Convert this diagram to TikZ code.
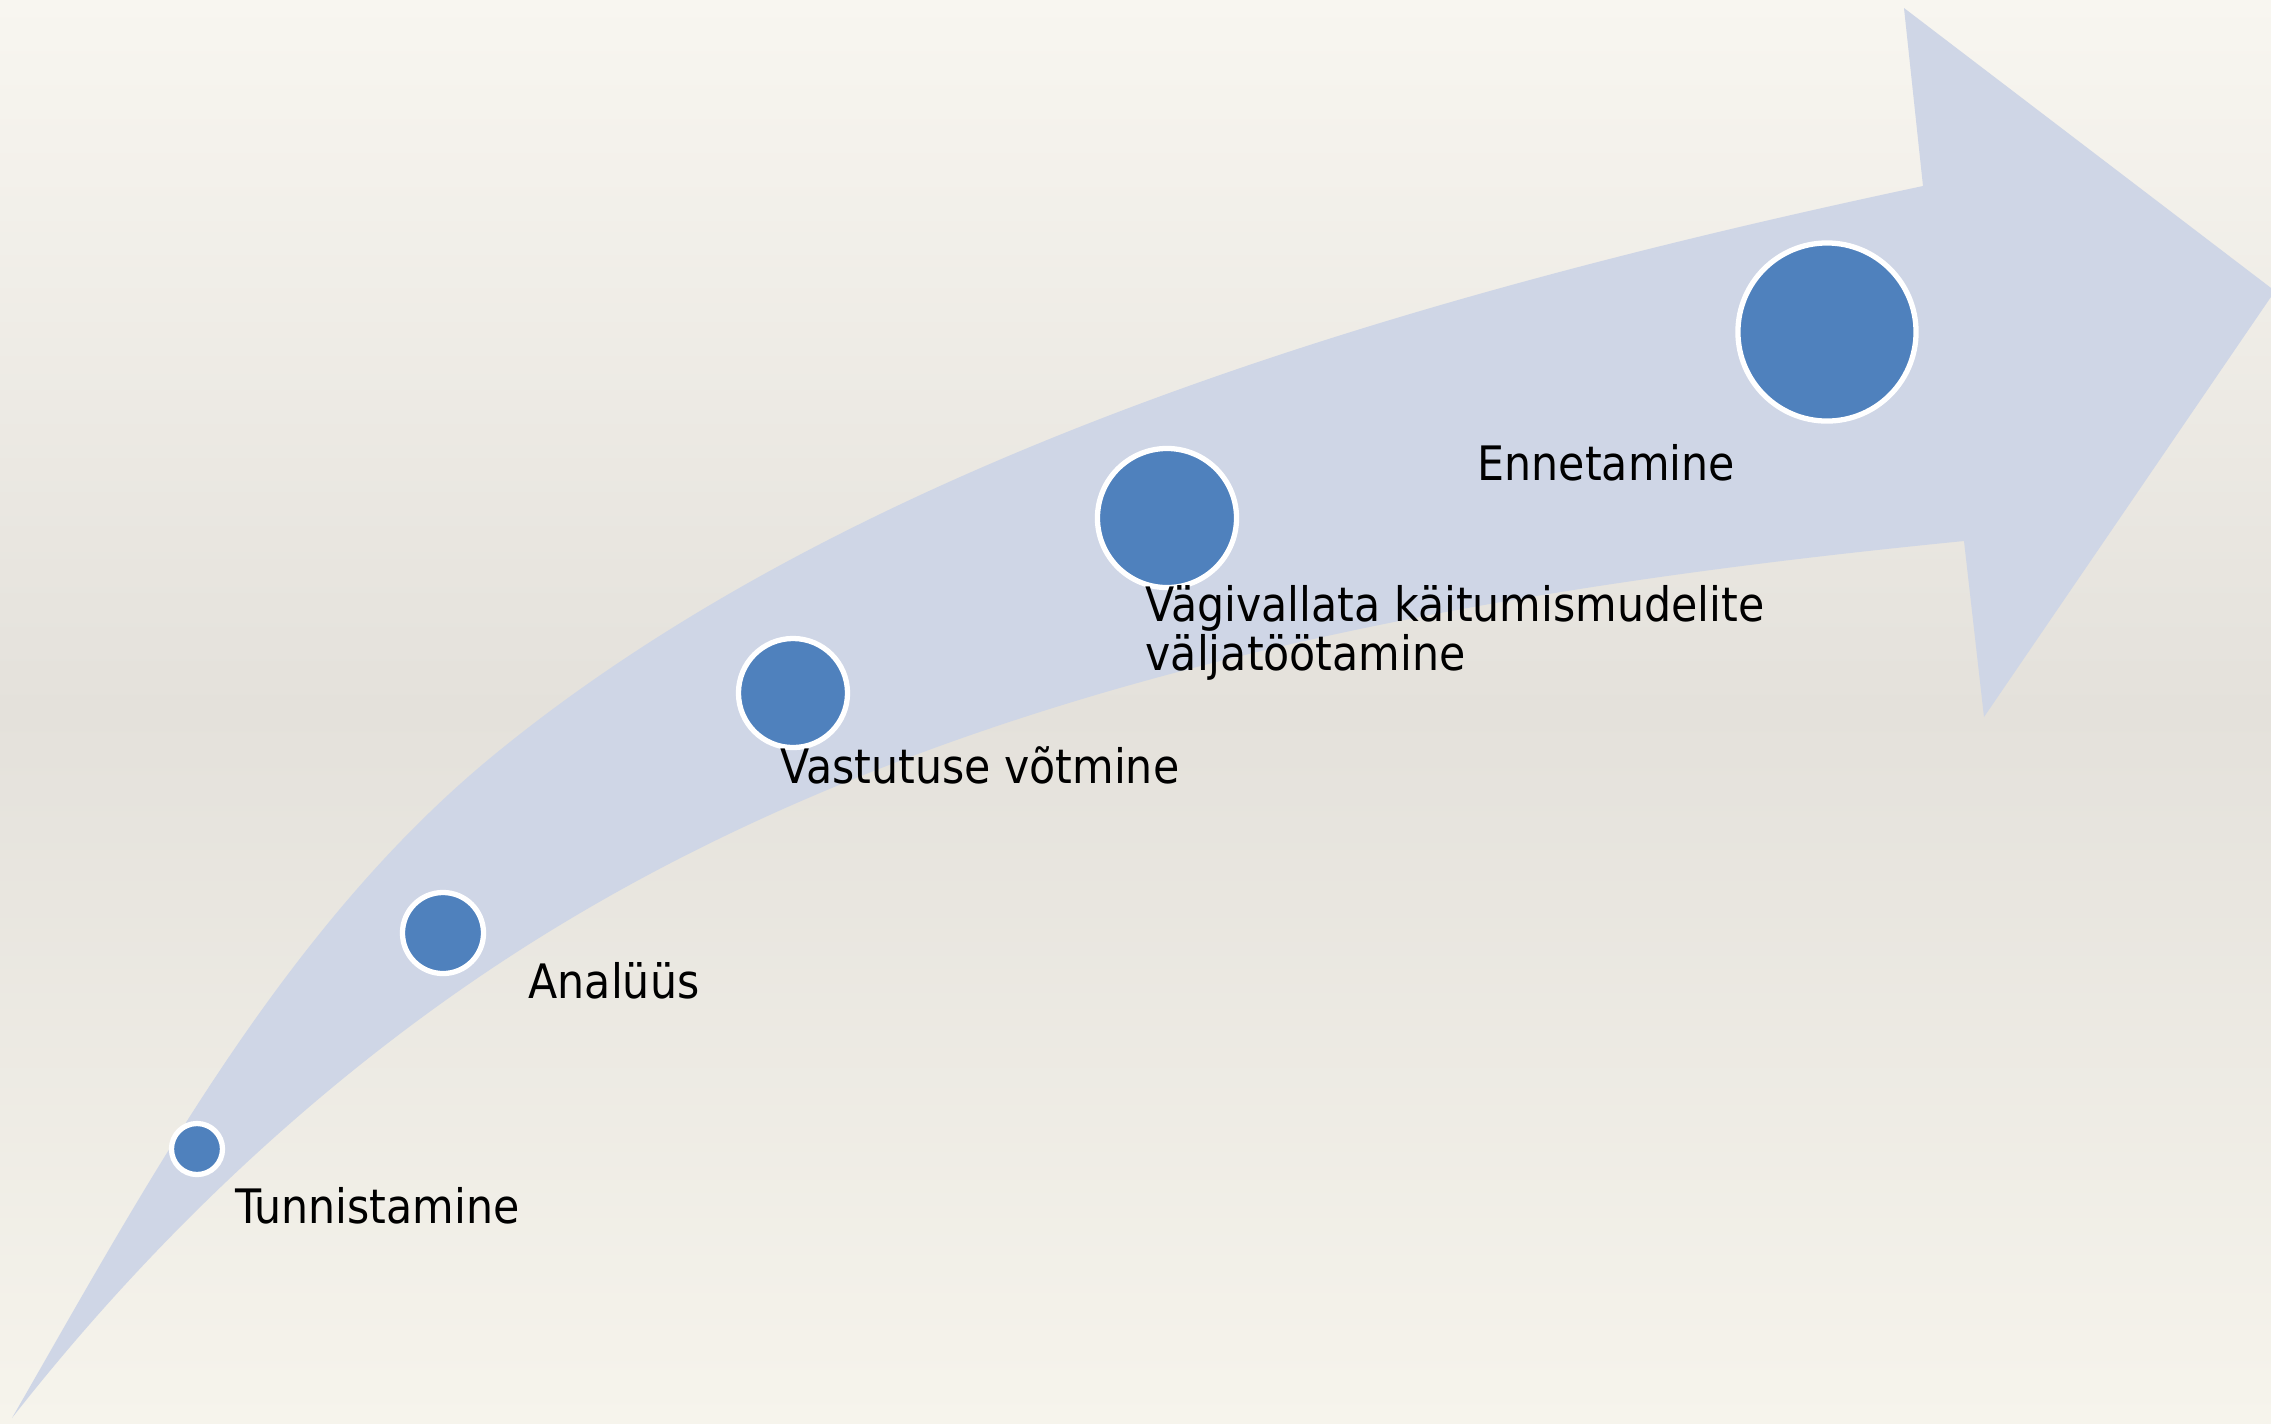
\documentclass[tikz,border=0pt]{standalone}
\usepackage{fontspec}
\setmainfont{DejaVu Sans Condensed}
\definecolor{bgtop}{HTML}{F8F6F0}
\definecolor{bgmid}{HTML}{E4E1DB}
\definecolor{bgbot}{HTML}{F6F4EC}
\definecolor{band}{HTML}{CFD6E6}
\definecolor{dotblue}{HTML}{4F81BD}
\begin{document}
\begin{tikzpicture}[x=0.01cm,y=-0.01cm,
  dot/.style={circle, fill=dotblue, draw=white, line width=1.5pt, inner sep=0pt},
  lbl/.style={anchor=base west, inner sep=0pt, font=\fontsize{13.5}{13.66}\selectfont, align=left}]
\useasboundingbox (0,0) rectangle (2271,1423);
\shade[top color=bgtop, bottom color=bgbot, middle color=bgmid] (0,0) rectangle (2271,1423);
% curved arrow band
\fill[band] (12,1418) .. controls (149,1180) and (286,923) .. (500,750)
  .. controls (870,450) and (1424,292) .. (1923,186)
  -- (1904,8) -- (2275,291) -- (1984,717) -- (1964,541)
  .. controls (1459,591) and (924,683) .. (500,963)
  .. controls (315,1085) and (149,1243) .. (12,1418)
  -- cycle;
% dots
\node[dot, minimum size=0.51cm] (d1) at (197,1149) {};
\node[dot, minimum size=0.81cm] (d2) at (443,933) {};
\node[dot, minimum size=1.09cm] (d3) at (793,693) {};
\node[dot, minimum size=1.39cm] (d4) at (1167,518) {};
\node[dot, minimum size=1.78cm] (d5) at (1827,332) {};
% labels
\node[lbl] (t1) at (235,1223) {Tunnistamine};
\node[lbl] (t2) at (528,998) {Analüüs};
\node[lbl] (t3) at (780,783) {Vastutuse võtmine};
\node[lbl] (t4) at (1145,670) {Vägivallata käitumismudelite\\väljatöötamine};
\node[lbl] (t5) at (1477,480) {Ennetamine};
\end{tikzpicture}
\end{document}
